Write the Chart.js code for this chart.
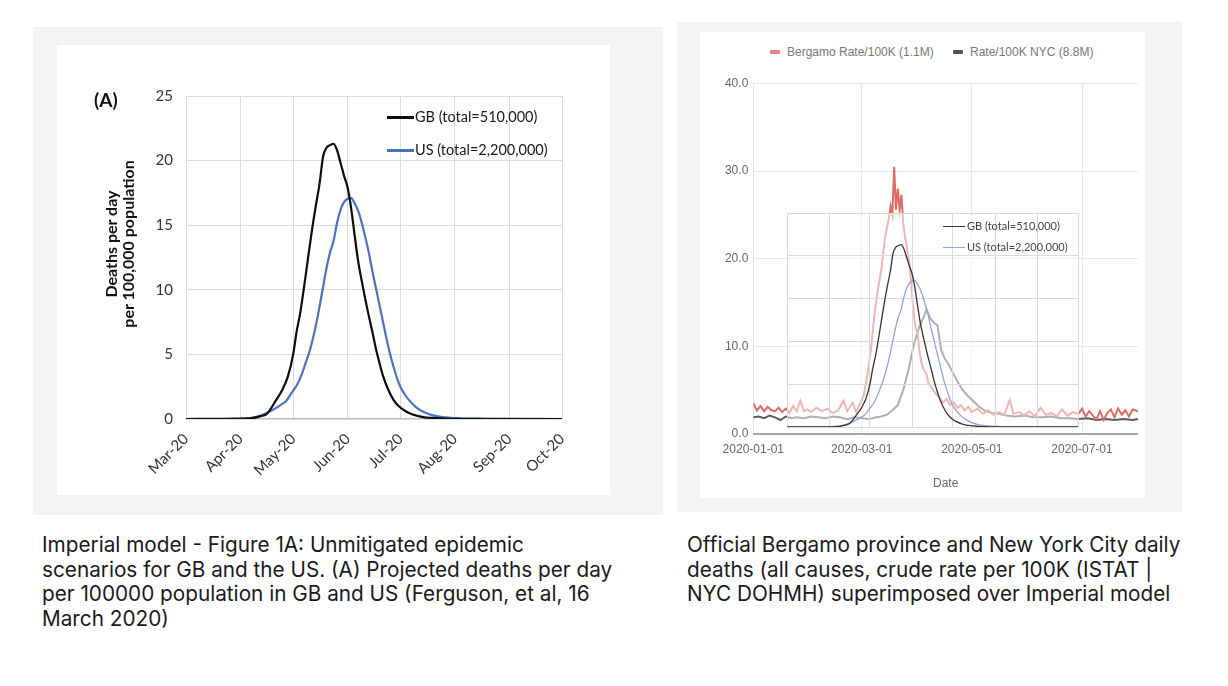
<!DOCTYPE html>
<html>
<head>
<meta charset="utf-8">
<script src="https://cdn.jsdelivr.net/npm/chart.js@4.4.1/dist/chart.umd.min.js"></script>
<style>
  html, body { margin: 0; padding: 0; background: #fff; }
  body { position: relative; width: 1228px; height: 686px; overflow: hidden; }
  .box { position: absolute; }
  .txt { position: absolute; white-space: nowrap; }
  .swatch { position: absolute; }
  canvas { position: absolute; }
  .caption { position: absolute; font-family: Inter, sans-serif; color: #1a1a1a; line-height: 24.5px; white-space: nowrap; }
</style>
</head>
<body>
<!-- panneaux de fond -->
<div class="box" style="left:33px;top:27px;width:630px;height:488px;background:#f3f3f3"></div>
<div class="box" style="left:57px;top:45px;width:553px;height:450px;background:#fff"></div>
<div class="box" style="left:677px;top:22px;width:505px;height:490px;background:#f3f3f3"></div>
<div class="box" style="left:700px;top:32px;width:445px;height:466px;background:#fff"></div>

<!-- graphique de gauche -->
<canvas id="leftChart" width="553" height="450" style="left:57px;top:45px"></canvas>
<div class="txt" style="left:94px;top:89px;font:bold 19px Lato;line-height:22px;color:#111">(A)</div>
<div class="txt" style="left:118.5px;top:244px;transform:translate(-50%,-50%) rotate(-90deg);font:bold 16px Lato;line-height:17px;text-align:center;color:#111">Deaths per day<br>per 100,000 population</div>
<div class="swatch" style="left:387px;top:116px;width:27px;height:2.5px;background:#0d0d0d"></div>
<div class="txt" style="left:415px;top:108px;font:14.5px Lato;line-height:18px;color:#1a1a1a">GB (total=510,000)</div>
<div class="swatch" style="left:387px;top:149px;width:27px;height:2.5px;background:#4a72c0"></div>
<div class="txt" style="left:415px;top:141px;font:14.5px Lato;line-height:18px;color:#1a1a1a">US (total=2,200,000)</div>

<!-- graphique de droite -->
<div class="swatch" style="left:770px;top:50px;width:10px;height:4px;border-radius:1px;background:#e8877f"></div>
<div class="txt" style="left:787px;top:45px;font:12px 'Liberation Sans';line-height:14px;color:#777">Bergamo Rate/100K (1.1M)</div>
<div class="swatch" style="left:953px;top:50px;width:10px;height:4px;border-radius:1px;background:#555"></div>
<div class="txt" style="left:970px;top:45px;font:12px 'Liberation Sans';line-height:14px;color:#777">Rate/100K NYC (8.8M)</div>
<canvas id="rightChart" width="480" height="466" style="left:690px;top:32px"></canvas>
<canvas id="overlayChart" width="299" height="222" style="left:783px;top:209px"></canvas>
<div class="swatch" style="left:943px;top:225.5px;width:22px;height:1.4px;background:#333"></div>
<div class="txt" style="left:967px;top:220px;font:11px Lato;line-height:12px;color:#444">GB (total=510,000)</div>
<div class="swatch" style="left:943px;top:246.5px;width:22px;height:1.4px;background:#8fa3d9"></div>
<div class="txt" style="left:967px;top:241px;font:11px Lato;line-height:12px;color:#444">US (total=2,200,000)</div>

<div class="caption" id="capLeft" style="left:42px;top:533px"></div>
<div class="caption" id="capRight" style="left:687px;top:533px"></div>

<script>
// --- Données du modèle Imperial (jours depuis le 1er mars 2020) ---
const monthDays = [0, 31, 61, 92, 122, 153, 184, 214];
const monthLabels = ['Mar-20', 'Apr-20', 'May-20', 'Jun-20', 'Jul-20', 'Aug-20', 'Sep-20', 'Oct-20'];

const gbDays = [0, 20, 36, 42, 46, 51, 55, 58, 61, 63, 65, 68, 70, 72, 74, 76, 78, 80, 82, 84, 86, 88, 90, 92, 94, 96, 98, 100, 102, 104, 106, 108, 110, 112, 115, 118, 121, 125, 129, 135, 140, 150, 214];
const gbVals = [0, 0.02, 0.05, 0.2, 0.4, 1.4, 2.3, 3.3, 5.0, 6.8, 8.2, 11.0, 13.0, 14.9, 16.6, 18.2, 20.3, 21.0, 21.2, 21.3, 20.8, 19.8, 18.8, 17.9, 16.3, 14.2, 12.2, 10.7, 9.3, 8.0, 6.8, 5.5, 4.4, 3.4, 2.3, 1.5, 1.0, 0.6, 0.35, 0.15, 0.08, 0.02, 0];

const usDays = [0, 30, 40, 45, 50, 54, 57, 60, 63, 66, 68, 70, 72, 74, 76, 78, 80, 82, 84, 86, 88, 90, 92, 94, 96, 98, 100, 102, 104, 106, 108, 110, 112, 114, 116, 118, 120, 122, 125, 128, 132, 136, 140, 146, 155, 170, 214];
const usVals = [0, 0.02, 0.15, 0.4, 0.75, 1.1, 1.4, 2.0, 2.6, 3.5, 4.3, 5.1, 6.1, 7.3, 8.7, 10.2, 11.7, 12.9, 13.8, 15.2, 16.2, 16.8, 17.05, 17.1, 16.7, 16.1, 15.2, 14.1, 12.9, 11.5, 10.2, 8.9, 7.6, 6.3, 5.1, 4.1, 3.2, 2.5, 1.8, 1.3, 0.8, 0.5, 0.3, 0.15, 0.06, 0.02, 0];

// --- Données officielles (jours depuis le 1er janvier 2020) ---
const dateTickDays = [0, 60, 121, 182];
const dateTickLabels = ['2020-01-01', '2020-03-01', '2020-05-01', '2020-07-01'];

const bgDays = [0, 2, 4, 6, 8, 10, 12, 14, 16, 18, 20, 22, 24, 26, 28, 30, 32, 35, 38, 41, 44, 47, 50, 52, 55, 57, 59, 61, 63, 65, 67, 69, 71, 73, 75, 76, 77, 78, 79, 80, 81, 82, 83, 84, 86, 87, 88, 89, 90, 91, 92, 93, 94, 96, 97, 99, 101, 103, 105, 107, 109, 111, 113, 115, 117, 119, 121, 124, 127, 130, 133, 136, 139, 142, 144, 147, 150, 153, 156, 159, 162, 165, 168, 171, 174, 177, 180, 182, 184, 186, 188, 190, 192, 194, 196, 198, 200, 202, 204, 206, 208, 210, 213];
const bgVals = [3.5, 2.7, 3.2, 2.6, 3.1, 2.7, 2.6, 3.0, 2.5, 2.9, 2.4, 3.2, 2.6, 3.8, 2.6, 2.8, 2.5, 3.0, 2.6, 2.9, 2.4, 2.7, 3.8, 2.6, 3.6, 2.5, 3.4, 4.3, 6.5, 9.5, 13.5, 16.5, 19.0, 22.5, 24.5, 26.0, 25.0, 30.5, 25.6, 28.0, 25.6, 27.3, 24.1, 22.5, 20.0, 18.4, 15.7, 13.5, 12.0, 11.5, 9.5, 8.2, 7.5, 6.8, 5.8, 5.2, 4.6, 4.2, 3.6, 4.0, 3.3, 3.6, 3.0, 3.3, 2.7, 3.1, 2.5, 2.9, 2.3, 2.7, 2.2, 2.5, 2.2, 3.9, 2.3, 2.5, 2.1, 2.6, 2.0, 3.0, 2.2, 2.4, 2.0, 2.8, 2.1, 2.5, 2.3, 2.9, 2.0, 2.6, 2.1, 1.7, 2.6, 1.6, 2.4, 2.8, 1.9, 2.9, 2.2, 2.7, 2.0, 2.8, 2.6];

const nycDays = [0, 3, 6, 9, 12, 15, 18, 21, 24, 28, 32, 36, 40, 44, 48, 52, 56, 60, 64, 68, 71, 74, 77, 80, 83, 86, 89, 92, 94, 96, 98, 100, 102, 104, 106, 108, 110, 113, 116, 119, 122, 125, 128, 132, 136, 140, 145, 150, 155, 160, 165, 170, 175, 180, 185, 190, 195, 200, 205, 210, 213];
const nycVals = [1.9, 2.0, 1.8, 2.1, 1.9, 1.6, 2.0, 1.8, 1.9, 1.8, 2.0, 1.9, 1.8, 2.0, 1.9, 1.7, 1.9, 1.8, 1.7, 1.9, 2.0, 2.2, 2.7, 3.3, 5.0, 7.4, 10.3, 12.3, 13.2, 14.2, 13.2, 12.7, 12.4, 9.6, 8.6, 8.0, 7.2, 6.0, 5.0, 4.3, 3.7, 3.1, 2.7, 2.4, 2.3, 2.1, 2.0, 2.1, 1.9, 1.9, 2.0, 1.8, 1.8, 1.7, 1.8, 1.6, 1.7, 1.6, 1.7, 1.6, 1.7];

const captionLeft = [
  'Imperial model - Figure 1A: Unmitigated epidemic',
  'scenarios for GB and the US. (A) Projected deaths per day',
  'per 100000 population in GB and US (Ferguson, et al, 16',
  'March 2020)'
];
const captionRight = [
  'Official Bergamo province and New York City daily',
  'deaths (all causes, crude rate per 100K (ISTAT |',
  'NYC DOHMH) superimposed over Imperial model'
];

// --- Utilitaires ---
const pts = (xs, ys) => xs.map((x, i) => ({ x, y: ys[i] }));
const fixTicks = list => scale => { scale.ticks = list.map(v => ({ value: v })); };

// fond blanc semi-transparent de l'image superposée
const overlayBg = {
  id: 'overlayBg',
  beforeDraw(chart) {
    const { ctx, chartArea: a } = chart;
    ctx.save();
    ctx.fillStyle = 'rgba(255,255,255,0.5)';
    ctx.fillRect(a.left, a.top, a.width, a.height);
    ctx.restore();
  }
};

// --- Figure 1A ---
new Chart(document.getElementById('leftChart'), {
  type: 'line',
  data: {
    datasets: [
      { label: 'GB (total=510,000)', data: pts(gbDays, gbVals), borderColor: '#0d0d0d', borderWidth: 2.2, cubicInterpolationMode: 'monotone' },
      { label: 'US (total=2,200,000)', data: pts(usDays, usVals), borderColor: '#4a72c0', borderWidth: 2.2, cubicInterpolationMode: 'monotone' }
    ]
  },
  options: {
    responsive: false,
    animation: false,
    elements: { point: { radius: 0 } },
    layout: { padding: { top: 51, right: 48, left: 0, bottom: 0 } },
    plugins: { legend: { display: false }, tooltip: { enabled: false } },
    scales: {
      x: {
        type: 'linear', min: 0, max: 214,
        afterBuildTicks: fixTicks(monthDays),
        afterFit: s => { s.height = 76; },
        ticks: { autoSkip: false, minRotation: 45, maxRotation: 45, padding: 11, color: '#333', font: { family: 'Lato', size: 15 }, callback: (v, i) => monthLabels[i] },
        grid: { color: '#dcdcdc', drawTicks: false },
        border: { display: false }
      },
      y: {
        min: 0, max: 25,
        afterFit: s => { s.width = 129; },
        ticks: { stepSize: 5, padding: 13, color: '#333', font: { family: 'Lato', size: 15 } },
        grid: { color: c => c.tick.value === 0 ? '#bdbdbd' : '#dcdcdc', lineWidth: c => c.tick.value === 0 ? 1.5 : 1, drawTicks: false },
        border: { display: false }
      }
    }
  }
});

// --- Bergame / NYC ---
new Chart(document.getElementById('rightChart'), {
  type: 'line',
  data: {
    datasets: [
      { label: 'Bergamo Rate/100K (1.1M)', data: pts(bgDays, bgVals), borderColor: '#e06a64', borderWidth: 2 },
      { label: 'Rate/100K NYC (8.8M)', data: pts(nycDays, nycVals), borderColor: '#5c5c5c', borderWidth: 2 }
    ]
  },
  options: {
    responsive: false,
    animation: false,
    elements: { point: { radius: 0 } },
    layout: { padding: { top: 51.5, right: 32, left: 0, bottom: 0 } },
    plugins: { legend: { display: false }, tooltip: { enabled: false } },
    scales: {
      x: {
        type: 'linear', min: 0, max: 213,
        afterBuildTicks: fixTicks(dateTickDays),
        afterFit: s => { s.height = 64; },
        ticks: { autoSkip: false, maxRotation: 0, padding: 8, color: '#666', font: { family: 'Liberation Sans', size: 12 }, callback: (v, i) => dateTickLabels[i] },
        title: { display: true, text: 'Date', color: '#666', font: { family: 'Liberation Sans', size: 12 }, padding: { top: 0, bottom: 7 } },
        grid: { color: '#e6e6e6', drawTicks: false },
        border: { display: false }
      },
      y: {
        min: 0, max: 40,
        afterFit: s => { s.width = 63.3; },
        ticks: { stepSize: 10, padding: 5, color: '#666', font: { family: 'Liberation Sans', size: 12 }, callback: v => v.toFixed(1) },
        grid: { color: c => c.tick.value === 0 ? '#a6a6a6' : '#e6e6e6', lineWidth: c => c.tick.value === 0 ? 2 : 1, drawTicks: false },
        border: { display: false }
      }
    }
  }
});

// --- Modèle superposé ---
new Chart(document.getElementById('overlayChart'), {
  type: 'line',
  data: {
    datasets: [
      { label: 'GB (total=510,000)', data: pts(gbDays, gbVals), borderColor: '#333', borderWidth: 1.3, cubicInterpolationMode: 'monotone' },
      { label: 'US (total=2,200,000)', data: pts(usDays, usVals), borderColor: '#8fa3d9', borderWidth: 1.3, cubicInterpolationMode: 'monotone' }
    ]
  },
  options: {
    responsive: false,
    animation: false,
    elements: { point: { radius: 0 } },
    layout: { padding: 4 },
    plugins: { legend: { display: false }, tooltip: { enabled: false } },
    scales: {
      x: {
        type: 'linear', min: 0, max: 214,
        afterBuildTicks: fixTicks(monthDays),
        afterFit: s => { s.height = 0; },
        ticks: { display: false },
        grid: { color: '#dadada', drawTicks: false },
        border: { display: false }
      },
      y: {
        min: 0, max: 25,
        afterFit: s => { s.width = 0; },
        ticks: { display: false, stepSize: 5 },
        grid: { color: '#dadada', drawTicks: false },
        border: { display: false }
      }
    }
  },
  plugins: [overlayBg]
});

// --- Légendes du bas ---
const meas = document.createElement('canvas').getContext('2d');
meas.font = '20px Inter';
const capSize = 20 * 482 / meas.measureText(captionLeft[0]).width;
[['capLeft', captionLeft], ['capRight', captionRight]].forEach(([id, lines]) => {
  const el = document.getElementById(id);
  el.style.fontSize = capSize.toFixed(2) + 'px';
  lines.forEach(l => {
    const d = document.createElement('div');
    d.textContent = l;
    el.appendChild(d);
  });
});
</script>
</body>
</html>
